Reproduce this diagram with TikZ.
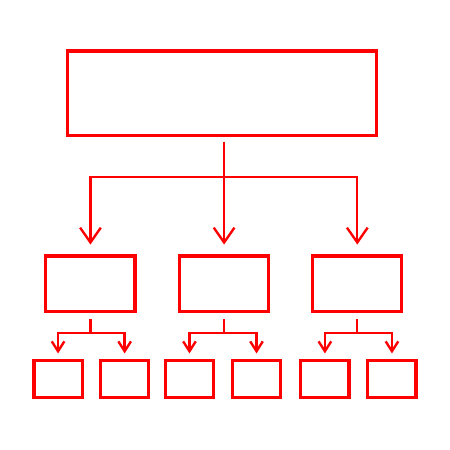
\documentclass[tikz,border=0pt]{standalone}
\usetikzlibrary{arrows.meta}
\begin{document}
\begin{tikzpicture}[
    box/.style={draw=red, line width=2pt, inner sep=0pt},
    link/.style={draw=red, line width=1.5pt},
    bigtip/.style={link, -{Straight Barb[length=0.33cm, width=0.46cm, line width=1.5pt]}},
    smalltip/.style={link, -{Straight Barb[length=0.22cm, width=0.28cm, line width=1.5pt]}}]
    \useasboundingbox (0,0) rectangle (10,10);
    \node[box, minimum width=6.87cm, minimum height=1.87cm] (top) at (4.94,7.93) {};
    \node[box, minimum width=1.98cm, minimum height=1.24cm] (m1) at (2.01,3.69) {};
    \node[box, minimum width=1.98cm, minimum height=1.24cm] (m2) at (4.98,3.69) {};
    \node[box, minimum width=1.98cm, minimum height=1.24cm] (m3) at (7.94,3.69) {};
    \foreach \s/\x in {s1/1.29, s2/2.77, s3/4.21, s4/5.70, s5/7.22, s6/8.71}
        \node[box, minimum width=1.07cm, minimum height=0.82cm] (\s) at (\x,1.57) {};
    \coordinate (j) at (m2.north |- 0,6.07);
    \draw[bigtip, shorten <=0.11cm, shorten >=0.22cm] (top.south -| j) -- (m2.north);
    \draw[bigtip, shorten >=0.22cm] (j) -| (m1.north);
    \draw[bigtip, shorten >=0.22cm] (j) -| (m3.north);
    \foreach \m/\a/\b in {m1/s1/s2, m2/s3/s4, m3/s5/s6} {
        \coordinate (\m j) at (\m.south |- 0,2.6);
        \draw[link, shorten <=0.13cm] (\m.south) -- (\m j);
        \draw[smalltip, shorten >=0.13cm] (\m j) -| (\a.north);
        \draw[smalltip, shorten >=0.13cm] (\m j) -| (\b.north);
    }
\end{tikzpicture}
\end{document}
